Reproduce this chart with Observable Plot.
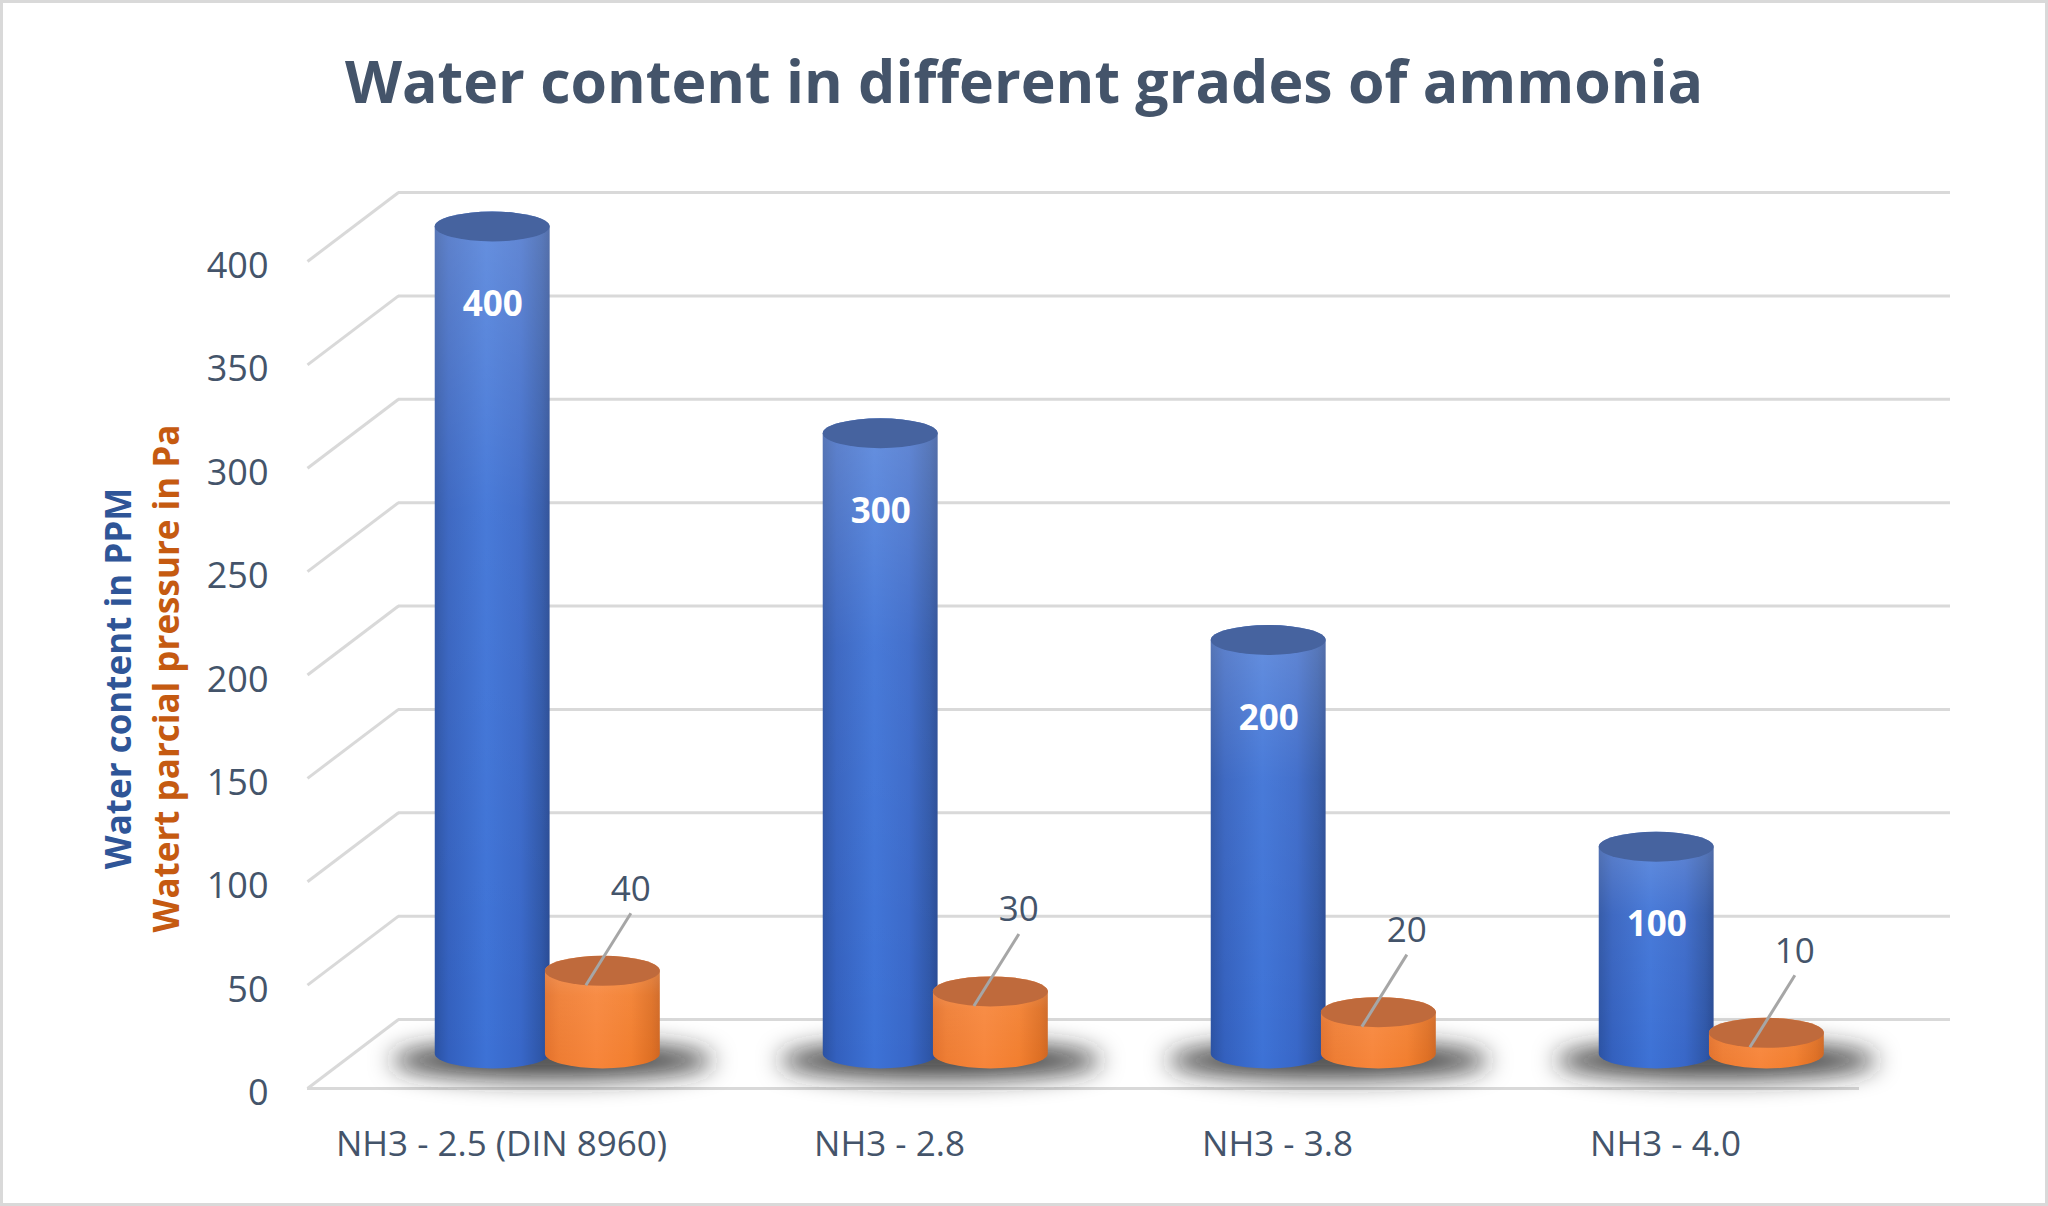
<!DOCTYPE html>
<html><head><meta charset="utf-8">
<script src="https://cdn.jsdelivr.net/npm/d3@7"></script>
<script src="https://cdn.jsdelivr.net/npm/@observablehq/plot@0.6"></script>
<style>
html,body{margin:0;padding:0;background:#fff;}
#wrap{position:relative;width:2048px;height:1206px;overflow:hidden;background:#fff;font-family:"Open Sans",sans-serif;}
#title{height:160px;box-sizing:border-box;padding-top:51px;text-align:center;font-size:59px;line-height:59px;font-weight:700;color:#44546A;white-space:nowrap;}
#chart svg{display:block;}
#border{position:absolute;left:0;top:0;right:0;bottom:0;border:3px solid #D9D9D9;pointer-events:none;box-sizing:border-box;}
</style></head><body>
<div id="wrap"><div id="title">Water content in different grades of ammonia</div><div id="chart"></div><div id="border"></div></div>
<script>
// ---- data ----
const categories = ["NH3 - 2.5 (DIN 8960)", "NH3 - 2.8", "NH3 - 3.8", "NH3 - 4.0"];
const ppmValues = [400, 300, 200, 100];
const paValues = [40, 30, 20, 10];
const yTicks = [0, 50, 100, 150, 200, 250, 300, 350, 400];
const axisTitlePPM = "Water content in PPM";
const axisTitlePa = "Watert parcial pressure in Pa";

// ---- layout ----
const W = 2048, H = 1046;
const mL = 352.5, mR = 143.5, mT = 66.5, mB = 152.5;
const pxX = (W - mL - mR) / categories.length;   // px per category
const pxY = (H - mT - mB) / 400;                 // px per unit
const depthX = 45.5 / pxX, depthY = 34.5 / pxY;  // half depth in data units
const blueA = -0.288, blueB = 0.008, orA = -0.004, orB = 0.292;
const blueC = (blueA + blueB) / 2, orC = (orA + orB) / 2;
const ry = 15, rx = 58;
const txt = "#44546A";
const shadowFill = "#262626";

const rows = categories.map((c, i) => ({c, i, ppm: ppmValues[i], pa: paValues[i]}));
const cx = d => d.i + 0.5;

const plot = Plot.plot({
  width: W, height: H,
  marginLeft: mL, marginRight: mR, marginTop: mT, marginBottom: mB,
  x: {type: "linear", domain: [0, categories.length], axis: null},
  y: {type: "linear", domain: [0, 400], axis: null},
  style: {fontFamily: "Open Sans, sans-serif", background: "white", overflow: "visible"},
  marks: [
    // back wall grid
    Plot.ruleY(yTicks, {y: d => d, dx: 45.5, dy: -34.5, stroke: "#D9D9D9", strokeWidth: 3}),
    // side wall diagonals
    Plot.link(yTicks, {x1: -depthX, y1: d => d - depthY, x2: depthX, y2: d => d + depthY, stroke: "#D9D9D9", strokeWidth: 3}),
    // front floor edge
    Plot.ruleY([0], {dx: -45.5, dy: 34.5, stroke: "#D9D9D9", strokeWidth: 3}),
    // shadows
    Plot.rect(rows, {x1: d => cx(d) - 0.40, x2: d => cx(d) + 0.43, y1: 0, y2: 0, insetTop: -12, insetBottom: -26,
      rx: 160, ry: 19, fill: shadowFill, fillOpacity: 0.85, ariaLabel: "shadow"}),
    // blue cylinders
    Plot.rect(rows, {x1: d => cx(d) + blueA, x2: d => cx(d) + blueB, y1: 0, y2: "ppm", insetTop: -ry, insetBottom: -ry,
      rx, ry, fill: "url(#gBlue)"}),
    Plot.rect(rows, {x1: d => cx(d) + blueA, x2: d => cx(d) + blueB, y1: 0, y2: "ppm", insetTop: -ry, insetBottom: -ry,
      rx, ry, fill: "url(#gHi)"}),
    Plot.rect(rows, {x1: d => cx(d) + blueA, x2: d => cx(d) + blueB, y1: "ppm", y2: "ppm", insetTop: -ry, insetBottom: -ry,
      rx, ry, fill: "#46639F"}),
    // orange cylinders
    Plot.rect(rows, {x1: d => cx(d) + orA, x2: d => cx(d) + orB, y1: 0, y2: "pa", insetTop: -ry, insetBottom: -ry,
      rx, ry, fill: "url(#gOrange)"}),
    Plot.rect(rows, {x1: d => cx(d) + orA, x2: d => cx(d) + orB, y1: 0, y2: "pa", insetTop: -ry, insetBottom: -ry,
      rx, ry, fill: "url(#gHi)"}),
    Plot.rect(rows, {x1: d => cx(d) + orA, x2: d => cx(d) + orB, y1: "pa", y2: "pa", insetTop: -ry, insetBottom: -ry,
      rx, ry, fill: "#BF6A3C"}),
    // blue value labels
    Plot.text(rows, {x: d => cx(d) + blueC, y: "ppm", text: d => String(d.ppm), dy: 78,
      fill: "white", fontWeight: "bold", fontSize: 35}),
    // orange leader lines + labels
    Plot.link(rows, {x1: d => cx(d) + orC + 28 / pxX, y1: d => d.pa + 58 / pxY,
      x2: d => cx(d) + orC - 17 / pxX, y2: d => d.pa - 14 / pxY, stroke: "#A6A6A6", strokeWidth: 3}),
    Plot.text(rows, {x: d => cx(d) + orC, y: "pa", text: d => String(d.pa), dx: 28, dy: -82,
      fill: txt, fontSize: 35}),
    // y tick labels (front plane)
    Plot.text(yTicks, {x: -depthX, y: d => d - depthY, text: d => String(d), textAnchor: "end", dx: -39, dy: 5,
      fill: txt, fontSize: 36}),
    // category labels (front plane)
    Plot.text(rows, {x: d => cx(d) - depthX, y: -depthY, text: "c", dy: 56, fill: txt, fontSize: 35}),
    // axis titles
    Plot.text([axisTitlePPM], {frameAnchor: "left", text: d => d, rotate: -90, textAnchor: "middle", dx: -233.5, dy: 38,
      fill: "#2F5597", fontWeight: "bold", fontSize: 35}),
    Plot.text([axisTitlePa], {frameAnchor: "left", text: d => d, rotate: -90, textAnchor: "middle", dx: -185, dy: 38,
      fill: "#C55A11", fontWeight: "bold", fontSize: 35})
  ]
});

// gradients and blur
const svg = d3.select(plot);
const defs = svg.insert("defs", ":first-child");
function lin(id, stops, vertical) {
  const g = defs.append("linearGradient").attr("id", id)
    .attr("x1", 0).attr("y1", 0).attr("x2", vertical ? 0 : 1).attr("y2", vertical ? 1 : 0);
  stops.forEach(([o, c, op]) => g.append("stop").attr("offset", o).attr("stop-color", c).attr("stop-opacity", op ?? 1));
}
lin("gBlue", [[0, "#2B52A3"], [0.12, "#3360BE"], [0.45, "#3D72D6"], [0.75, "#3867C8"], [0.93, "#2E56A8"], [1, "#284A94"]]);
lin("gOrange", [[0, "#E2702A"], [0.12, "#EE7C32"], [0.45, "#F7853A"], [0.75, "#F27E2E"], [0.93, "#DE6E22"], [1, "#CF6520"]]);
lin("gHi", [[0, "#ffffff", 0.22], [0.35, "#ffffff", 0.06], [1, "#ffffff", 0]], true);
defs.append("filter").attr("id", "softShadow")
  .attr("filterUnits", "userSpaceOnUse").attr("x", 0).attr("y", 0).attr("width", W).attr("height", H)
  .append("feGaussianBlur").attr("stdDeviation", 12);
svg.selectAll("g").filter(function () {
  return this.getAttribute("aria-label") === "shadow" || this.getAttribute("fill") === shadowFill;
}).attr("filter", "url(#softShadow)");

document.getElementById("chart").appendChild(plot);
</script>
</body></html>
